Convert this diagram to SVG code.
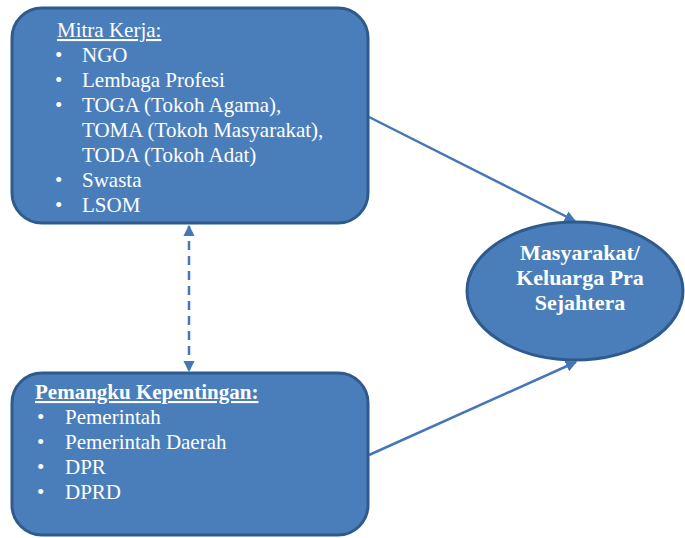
<svg xmlns="http://www.w3.org/2000/svg" width="685" height="538" viewBox="0 0 685 538">
<style>
.box{fill:#4a7ebb;stroke:#2f5b8c;stroke-width:3}
.c{stroke:#4577b5;stroke-width:2.5;fill:none}
</style>
<defs>
<marker id="ah" viewBox="0 0 10 10" refX="9" refY="5" markerWidth="4.5" markerHeight="4.5" orient="auto-start-reverse" markerUnits="strokeWidth">
<path d="M0,0 L10,5 L0,10 z" fill="#4577b5"/>
</marker>
</defs>
<rect width="685" height="538" fill="#ffffff"/>
<g id="connectors">
<line class="c" x1="369" y1="117" x2="575" y2="221" marker-end="url(#ah)"/>
<line class="c" x1="369" y1="455" x2="576" y2="362" marker-end="url(#ah)"/>
<line class="c" x1="189" y1="226" x2="189" y2="371" stroke-dasharray="9,6" marker-start="url(#ah)" marker-end="url(#ah)"/>
</g>
<g id="mitra">
<rect class="box" x="12" y="8" width="356" height="215" rx="30"/>
<g style="font-family:'Liberation Serif',serif;font-size:21px" fill="#ffffff">
<text x="57" y="37" text-decoration="underline">Mitra Kerja:</text>
<text x="55" y="62">•</text><text x="82" y="62">NGO</text>
<text x="55" y="87">•</text><text x="82" y="87">Lembaga Profesi</text>
<text x="55" y="112">•</text><text x="82" y="112">TOGA (Tokoh Agama),</text>
<text x="82" y="137">TOMA (Tokoh Masyarakat),</text>
<text x="82" y="162">TODA (Tokoh Adat)</text>
<text x="55" y="187">•</text><text x="82" y="187">Swasta</text>
<text x="55" y="212">•</text><text x="82" y="212">LSOM</text>
</g>
</g>
<g id="pemangku">
<rect class="box" x="12" y="373" width="356" height="162" rx="30"/>
<g style="font-family:'Liberation Serif',serif;font-size:21px" fill="#ffffff">
<text x="35" y="399" font-weight="bold" text-decoration="underline">Pemangku Kepentingan:</text>
<text x="37" y="424">•</text><text x="65" y="424">Pemerintah</text>
<text x="37" y="449">•</text><text x="65" y="449">Pemerintah Daerah</text>
<text x="37" y="474">•</text><text x="65" y="474">DPR</text>
<text x="37" y="499">•</text><text x="65" y="499">DPRD</text>
</g>
</g>
<g id="masyarakat">
<ellipse class="box" cx="575" cy="291" rx="108" ry="69"/>
<g style="font-family:'Liberation Serif',serif;font-size:22px;font-weight:bold" fill="#ffffff" text-anchor="middle">
<text x="580" y="260">Masyarakat/</text>
<text x="580" y="285">Keluarga Pra</text>
<text x="580" y="310">Sejahtera</text>
</g>
</g>
</svg>
